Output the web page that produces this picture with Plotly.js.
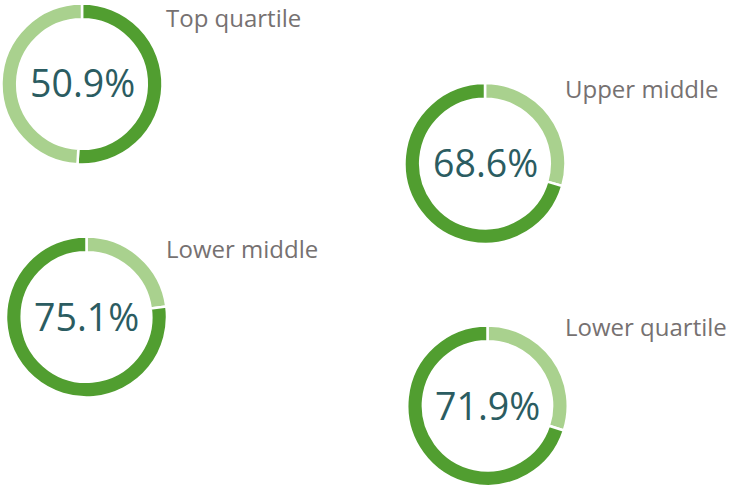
<!DOCTYPE html>
<html>
<head>
<meta charset="utf-8">
<script src="https://cdn.plot.ly/plotly-3.0.1.min.js"></script>
<style>
  html, body { margin: 0; padding: 0; background: #ffffff; }
  #chart { width: 733px; height: 486px; }
</style>
</head>
<body>
<div id="chart"></div>
<script>
// Data
const groups = ["Top quartile", "Upper middle", "Lower middle", "Lower quartile"];
const shareLabels = ["50.9%", "68.6%", "75.1%", "71.9%"];
// ring segments as drawn in the picture (dark = share, light = remainder)
const darkShare = [50.9, 70.5, 77.1, 70.0];
const lightShare = [49.1, 29.5, 22.9, 30.0];

// Layout / style (pixels)
const W = 733, H = 486;
const centers = [[82, 84], [485, 163.5], [86.5, 317], [487.5, 406]];
const R = 80.5;
const darkFirst = [true, false, false, false];
const labelPos = [[164, 18], [563, 88], [164, 248], [563, 326]];
const DARK = "#519e30", LIGHT = "#a9d18e";

const traces = [];
const annotations = [];
groups.forEach((g, i) => {
  const [cx, cy] = centers[i];
  const vals = darkFirst[i] ? [darkShare[i], lightShare[i]] : [lightShare[i], darkShare[i]];
  const cols = darkFirst[i] ? [DARK, LIGHT] : [LIGHT, DARK];
  traces.push({
    type: "pie",
    values: vals,
    sort: false,
    direction: "clockwise",
    rotation: 0,
    hole: 0.805,
    textinfo: "none",
    hoverinfo: "none",
    showlegend: false,
    marker: { colors: cols, line: { color: "#ffffff", width: 2.5 } },
    domain: {
      x: [(cx - R) / W, (cx + R) / W],
      y: [Math.max(0, (H - cy - R) / H), Math.min(1, (H - cy + R) / H)]
    }
  });
  annotations.push({
    text: shareLabels[i],
    x: cx / W, y: 1 - (cy - 1) / H,
    xref: "paper", yref: "paper",
    xanchor: "center", yanchor: "middle",
    showarrow: false,
    font: { family: "Open Sans, sans-serif", size: 37.5, color: "#2b5c61" }
  });
  annotations.push({
    text: g,
    x: labelPos[i][0] / W, y: 1 - labelPos[i][1] / H,
    xref: "paper", yref: "paper",
    xanchor: "left", yanchor: "middle",
    showarrow: false,
    font: { family: "Open Sans, sans-serif", size: 24, color: "#767171" }
  });
});

Plotly.newPlot("chart", traces, {
  width: W, height: H,
  margin: { l: 0, r: 0, t: 0, b: 0 },
  paper_bgcolor: "#ffffff",
  plot_bgcolor: "#ffffff",
  annotations: annotations
}, { staticPlot: true, displayModeBar: false });
</script>
</body>
</html>
